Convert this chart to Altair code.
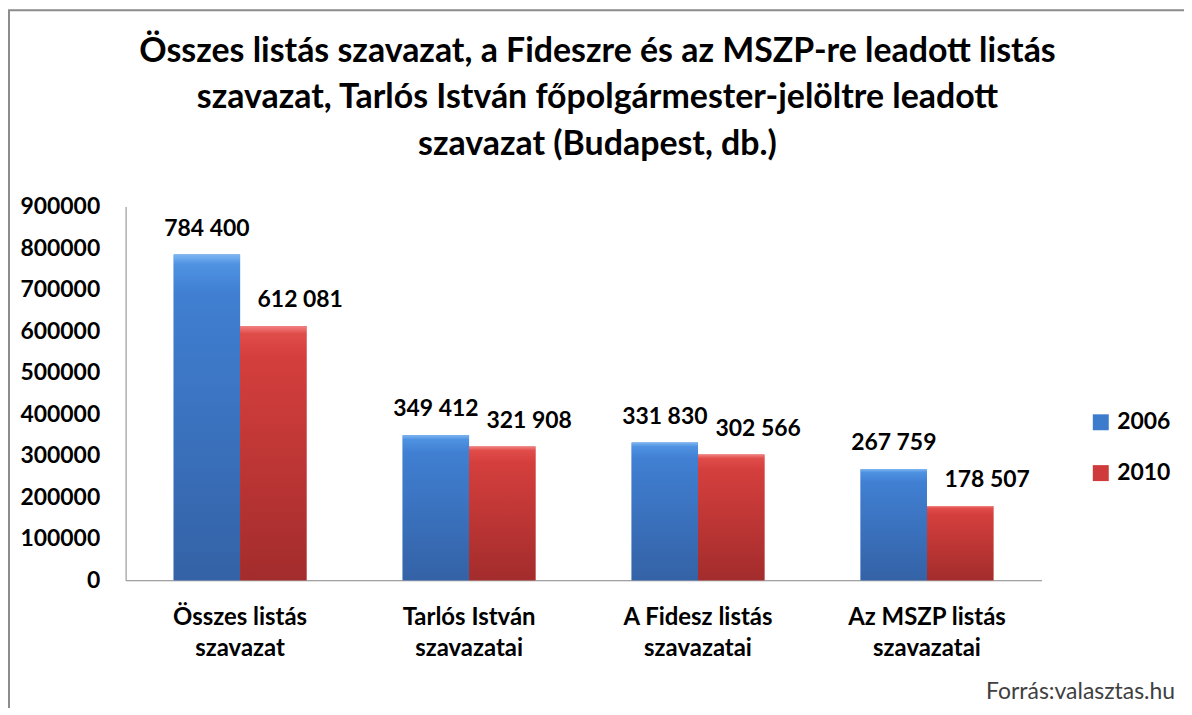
import altair as alt
import pandas as pd

CATEGORIES = [
    "Összes listás|szavazat",
    "Tarlós István|szavazatai",
    "A Fidesz listás|szavazatai",
    "Az MSZP listás|szavazatai",
]
YEARS = ["2006", "2010"]
VALUES_2006 = [784400, 349412, 331830, 267759]
VALUES_2010 = [612081, 321908, 302566, 178507]
Y_TICKS = [0, 100000, 200000, 300000, 400000, 500000, 600000, 700000, 800000, 900000]
TITLE = [
    "Összes listás szavazat, a Fideszre és az MSZP-re leadott listás",
    "szavazat, Tarlós István főpolgármester-jelöltre leadott",
    "szavazat (Budapest, db.)",
]
SOURCE = ["Forrás:valasztas.hu"]

rows = []
for i, c in enumerate(CATEGORIES):
    rows.append({"cat": c, "year": YEARS[0], "value": VALUES_2006[i]})
    rows.append({"cat": c, "year": YEARS[1], "value": VALUES_2010[i]})
df = pd.DataFrame(rows)
src_df = pd.DataFrame({"t": SOURCE})

W, H = 919, 375
FONT = "Lato"
BLUE = "#3d7bcc"
RED = "#cf3b3b"
GRAD_BLUE = {"gradient": "linear", "x1": 0, "y1": 0, "x2": 0, "y2": 1,
             "stops": [{"offset": 0, "color": "#7db6f2"},
                       {"offset": 0.03, "color": "#4f92e2"},
                       {"offset": 0.12, "color": "#407fd2"},
                       {"offset": 1, "color": "#3462a6"}]}
GRAD_RED = {"gradient": "linear", "x1": 0, "y1": 0, "x2": 0, "y2": 1,
            "stops": [{"offset": 0, "color": "#f28080"},
                      {"offset": 0.03, "color": "#e04c4a"},
                      {"offset": 0.12, "color": "#d43f3d"},
                      {"offset": 1, "color": "#a32c2c"}]}

x_enc = alt.X("cat:N", sort=CATEGORIES,
              scale=alt.Scale(paddingInner=0.42, paddingOuter=0.21),
              axis=alt.Axis(title=None, labelExpr="split(datum.label, '|')", labelAngle=0,
                            labelFont=FONT, labelFontWeight="bold", labelFontSize=24,
                            labelColor="#000", labelPadding=25, labelLineHeight=32,
                            ticks=False, domainColor="#868686", domainWidth=1))
xoff = alt.XOffset("year:N", sort=YEARS, scale=alt.Scale(paddingInner=0, paddingOuter=0))
y_enc = alt.Y("value:Q", scale=alt.Scale(domain=[0, 900000], nice=False),
              axis=alt.Axis(title=None, values=Y_TICKS, format="d", grid=False, ticks=False,
                            labelFont=FONT, labelFontWeight="bold", labelFontSize=23,
                            labelColor="#000", labelPadding=26, domainColor="#868686"))

base = alt.Chart(df)

bars = base.mark_bar().encode(
    x=x_enc, xOffset=xoff, y=y_enc,
    color=alt.Color("year:N", sort=YEARS, scale=alt.Scale(domain=YEARS, range=[BLUE, RED]),
                    legend=alt.Legend(title=None, orient="none", legendX=967, legendY=205,
                                      symbolType="square", symbolSize=256,
                                      labelFont=FONT, labelFontWeight="bold", labelFontSize=23,
                                      labelColor="#000", rowPadding=27, labelOffset=5)),
)

grad = base.mark_bar().encode(
    x=x_enc, xOffset=xoff, y=y_enc,
    fill=alt.condition(alt.datum.year == "2006", alt.value(GRAD_BLUE), alt.value(GRAD_RED)),
)

lbl_calc = "replace(format(datum.value, ','), ',', ' ')"
lbl_blue = base.transform_filter(alt.datum.year == "2006").transform_calculate(
    lbl=lbl_calc).mark_text(font=FONT, fontWeight="bold", fontSize=23, color="#000",
                            baseline="alphabetic", dy=-19).encode(
    x=x_enc, xOffset=xoff, y=y_enc, text="lbl:N")
lbl_red = base.transform_filter(alt.datum.year == "2010").transform_calculate(
    lbl=lbl_calc).mark_text(font=FONT, fontWeight="bold", fontSize=23, color="#000",
                            baseline="alphabetic", dx=27, dy=-19).encode(
    x=x_enc, xOffset=xoff, y=y_enc, text="lbl:N")

src = alt.Chart(src_df).mark_text(font=FONT, fontSize=23, color="#404040",
                                  align="right", baseline="alphabetic").encode(
    x=alt.value(1053), y=alt.value(494), text="t:N")

border = alt.Chart(src_df).mark_rect(fillOpacity=0, stroke="#8c8c8c", strokeWidth=2).encode(
    x=alt.value(-117), x2=alt.value(1200), y=alt.value(-197), y2=alt.value(700))

chart = alt.layer(border, bars, grad, lbl_blue, lbl_red, src).properties(
    width=W, height=H,
    title=alt.Title(text=TITLE, font=FONT, fontSize=34, fontWeight="bold", color="#000",
                    anchor="middle", lineHeight=46.5, offset=44, dx=14, dy=197),
    autosize=alt.AutoSizeParams(type="none"),
    padding={"left": 118, "top": 198, "right": 143, "bottom": 127},
).configure_view(strokeWidth=0)

chart.save("out.html", embed_options={"renderer": "svg", "actions": False})
